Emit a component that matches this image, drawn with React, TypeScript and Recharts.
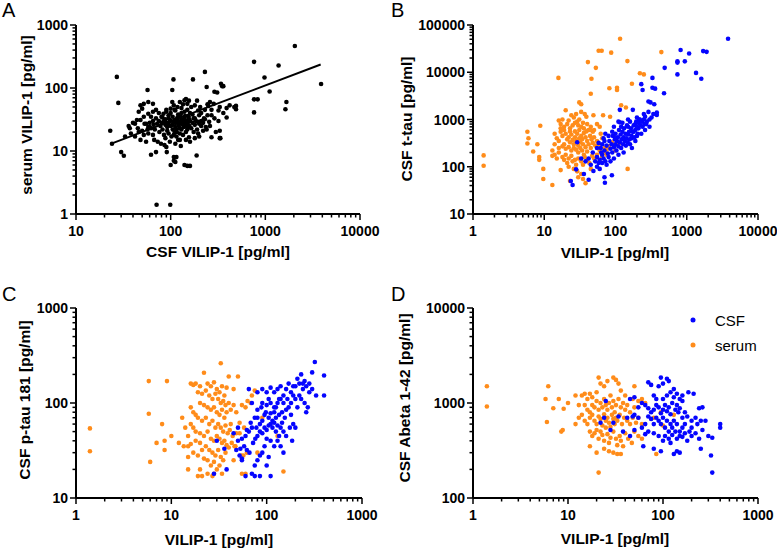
import { ScatterChart, Scatter, XAxis, YAxis } from "recharts";

type Pt = [number, number];

// A: CSF VILIP-1 (x) vs serum VILIP-1 (y)
const csfVsSerum: Pt[] = [
  [23, 21], [24, 13], [27, 150], [28, 58], [30, 9.6], [32, 8.4], [36, 25], [37, 23], [42, 27], [44, 31],
  [46, 42], [48, 53], [52, 56], [58, 60], [65, 56], [50, 47], [58, 39], [52, 35], [48, 31], [46, 20],
  [50, 21], [52, 18], [58, 19], [60, 24], [62, 23], [65, 18], [67, 15], [73, 14], [79, 13], [86, 12.4],
  [90, 11.6], [62, 8.7], [70, 9.6], [57, 93], [71, 1.4], [99, 1.4], [91, 9.6], [100, 6], [108, 7], [115, 8],
  [107, 137], [172, 137], [190, 63], [188, 8.5], [150, 5.8], [160, 5.8], [230, 180], [240, 104], [245, 55], [250, 52],
  [270, 16.5], [310, 85], [330, 21], [335, 16], [340, 117], [350, 107], [360, 107], [390, 48], [390, 34], [490, 52],
  [490, 46], [760, 260], [760, 41], [760, 66], [830, 66], [980, 147], [1110, 88], [1380, 228], [1630, 46], [1670, 60],
  [2050, 465], [3880, 116], [80, 35], [84, 39], [88, 32], [90, 42], [95, 37], [98, 31], [104, 60], [108, 53],
  [100, 47], [112, 44], [100, 25], [108, 29], [112, 24], [116, 32], [120, 27], [125, 23], [130, 31], [135, 26],
  [140, 33], [145, 29], [150, 24], [156, 32], [116, 20], [125, 19], [135, 18], [145, 20], [108, 18], [140, 64],
  [145, 67], [150, 56], [156, 63], [180, 53], [195, 44], [205, 50], [200, 37], [180, 33], [195, 29], [210, 25],
  [225, 33], [245, 37], [235, 24], [220, 21], [255, 29], [195, 19], [180, 16], [156, 16.5], [145, 15], [270, 37],
  [290, 33], [320, 44], [330, 50], [285, 56], [360, 40], [420, 53], [470, 50], [330, 16], [108, 8], [112, 6.7],
  [140, 6], [290, 87], [104, 93], [100, 30], [105, 26], [110, 31], [112, 28], [115, 22], [118, 34], [120, 30],
  [122, 25], [125, 28], [128, 35], [130, 22], [132, 27], [135, 30], [138, 24], [140, 28], [142, 36], [145, 26],
  [148, 30], [150, 22], [152, 28], [155, 35], [158, 25], [160, 30], [90, 28], [92, 24], [95, 33], [85, 30],
  [88, 26], [80, 28], [82, 22], [75, 30], [78, 25], [70, 33], [72, 27], [68, 22], [65, 30], [60, 28],
  [62, 35], [55, 27], [58, 24], [170, 28], [175, 33], [165, 23], [180, 26], [185, 30], [190, 22], [200, 27],
  [210, 30], [220, 28], [230, 32], [110, 20], [115, 17], [125, 15], [95, 19], [85, 18], [105, 22], [120, 38],
  [130, 40], [100, 40], [90, 45], [110, 45], [140, 42], [150, 45], [160, 40], [170, 38], [130, 48], [53, 27],
  [57, 22], [45, 23], [40, 28], [38, 19], [42, 17], [48, 15], [55, 14], [33, 17], [75, 40], [70, 45],
  [65, 42], [118, 50], [125, 60], [135, 55], [105, 35], [95, 27], [82, 34], [76, 20], [88, 16], [98, 14],
  [112, 13], [128, 12], [160, 14], [175, 20], [240, 22], [260, 25], [200, 17], [300, 20], [320, 30], [270, 45],
  [230, 45], [260, 60], [210, 40], [165, 50], [120, 15], [102, 17], [92, 21], [66, 26],
];
const fitA: Pt[] = [[24, 13.2], [3840, 236]];

// B: VILIP-1 vs CSF t-tau
const serumTtau: Pt[] = [
  [1.41, 174], [1.41, 105], [5.8, 550], [6, 400], [5.8, 310], [7, 211], [8, 300], [8.5, 160], [8.5, 140], [8.8, 740],
  [9.7, 90], [9.7, 55], [13, 170], [13, 41], [15.8, 7600], [31, 2300], [33, 2100], [41, 16400], [46, 7300], [45, 3500],
  [53, 12400], [58, 28500], [64, 28500], [87, 26000], [82, 4600], [105, 4700], [105, 4200], [116, 51000], [147, 17200], [120, 2000],
  [140, 1800], [170, 5700], [220, 9500], [250, 9000], [440, 26700], [148, 90],
  [20, 1570], [24, 1230], [33, 1450], [39, 1140], [49, 1230], [67, 1230], [84, 1140], [18, 1000], [22, 950], [26, 1100],
  [29, 900], [31, 1000], [35, 850], [37, 1300], [28, 1300], [16, 950], [17, 800], [21, 800], [25, 750], [27, 850],
  [30, 750], [33, 700], [36, 650], [40, 800], [42, 600], [19, 700], [23, 650], [45, 700], [50, 600], [55, 800],
  [60, 700], [14, 500], [15, 400], [16, 350], [17, 550], [18, 450], [19, 300], [20, 500], [21, 380], [22, 420],
  [23, 330], [24, 480], [25, 370], [26, 300], [27, 420], [28, 350], [29, 500], [30, 280], [31, 400], [32, 330],
  [33, 450], [34, 380], [35, 300], [36, 520], [38, 420], [40, 350], [42, 300], [44, 450], [46, 380], [48, 320],
  [50, 420], [14, 300], [16, 250], [18, 270], [20, 240], [22, 260], [24, 220], [26, 250], [28, 230], [30, 200],
  [32, 250], [34, 220], [36, 180], [38, 260], [40, 210], [45, 250], [52, 280], [55, 350], [58, 300], [60, 220],
  [65, 400], [70, 250], [62, 500], [48, 550], [44, 600], [39, 560], [31, 600], [27, 560], [23, 560], [19, 600],
  [17, 650], [13, 220], [14, 180], [15, 150], [16, 200], [18, 160], [19, 140], [20, 180], [21, 120], [22, 150],
  [24, 170], [25, 130], [27, 140], [28, 110], [30, 150], [33, 130], [35, 110], [37, 160], [40, 140], [43, 120],
  [47, 170], [50, 150], [55, 180], [60, 130], [65, 160], [70, 200], [75, 230], [22, 100], [26, 90], [29, 80],
  [33, 70], [35, 55], [38, 45], [23, 50], [30, 60], [45, 90], [17, 85], [80, 270], [90, 330], [100, 220],
  [75, 180], [110, 300], [95, 450],
];
const csfTtau: Pt[] = [
  [3800, 51000], [820, 29500], [1900, 27000], [1080, 25000], [1700, 28000], [740, 17000], [740, 16000], [940, 17000], [740, 9000], [1350, 9700],
  [1600, 7300], [490, 12400], [480, 3600], [230, 5600], [240, 4200], [330, 7600], [330, 4700], [360, 4500], [290, 2400], [310, 2300],
  [350, 2100], [380, 1250], [380, 1400], [290, 1450], [250, 1300], [175, 1600], [115, 1600], [115, 870], [200, 1100], [220, 1000],
  [260, 1150], [300, 1000], [270, 800], [240, 700], [210, 650], [190, 800], [160, 900], [150, 700], [230, 500], [260, 600],
  [300, 700], [200, 450], [180, 550], [170, 400], [190, 350], [23.6, 50], [25, 41], [28, 88], [29, 330], [33, 150],
  [36, 70], [42, 53], [49, 81], [70, 60], [71, 46], [89, 66], [38, 130], [42, 150], [45, 110], [48, 200],
  [52, 130], [55, 160], [58, 120], [60, 140], [62, 250], [65, 180], [68, 150], [70, 220], [72, 130], [75, 280],
  [78, 190], [80, 160], [82, 350], [85, 240], [88, 300], [90, 200], [92, 450], [95, 260], [98, 380], [100, 300],
  [100, 500], [103, 220], [105, 350], [108, 420], [110, 270], [112, 600], [115, 330], [118, 480], [120, 250], [122, 380],
  [125, 550], [128, 300], [130, 420], [132, 650], [135, 350], [138, 500], [140, 280], [142, 400], [145, 750], [148, 330],
  [150, 480], [155, 550], [158, 380], [160, 300], [165, 650], [168, 450], [170, 250], [175, 550], [180, 750], [185, 420],
  [190, 600], [195, 900], [200, 700], [205, 500], [210, 850], [215, 1000], [225, 750], [235, 900], [250, 1000], [255, 800],
  [275, 900], [320, 1100], [340, 1300], [130, 200], [110, 180], [95, 150], [85, 130], [75, 110], [65, 120], [55, 100],
  [60, 90], [100, 400], [120, 700], [90, 550], [80, 450], [70, 350], [65, 300], [110, 900], [125, 850], [150, 1000],
  [95, 700], [55, 250], [58, 320], [63, 200], [68, 400], [72, 500],
];

// C: VILIP-1 vs CSF p-tau 181
const serumPtau: Pt[] = [
  [1.4, 54], [1.4, 31], [5.8, 170], [5.8, 77], [6, 24], [7, 38], [8, 60], [8.5, 40], [8.5, 32], [9, 170],
  [10, 45], [12, 38], [13, 70], [13.5, 35], [14, 55], [15, 20], [15, 27], [16, 160], [16, 37], [33, 262],
  [22, 208], [40, 190], [18, 160], [17, 155], [20, 150], [24, 160], [26, 150], [28, 165], [30, 140], [32, 130],
  [34, 150], [36, 120], [38, 145], [19, 130], [21, 125], [23, 135], [25, 120], [27, 110], [29, 125], [31, 110],
  [33, 100], [35, 105], [37, 95], [40, 100], [45, 140], [42, 85], [20, 100], [22, 95], [24, 90], [26, 85],
  [28, 90], [30, 80], [32, 75], [34, 85], [36, 70], [38, 80], [16, 90], [17, 80], [18, 75], [19, 70],
  [21, 65], [23, 70], [25, 60], [27, 65], [29, 55], [31, 60], [33, 55], [35, 50], [37, 58], [39, 48],
  [41, 52], [44, 45], [16, 60], [17, 55], [18, 50], [20, 48], [22, 45], [24, 50], [26, 42], [28, 40],
  [30, 45], [32, 42], [34, 38], [36, 40], [38, 36], [40, 34], [43, 38], [46, 35], [15, 45], [18, 40],
  [20, 38], [23, 35], [25, 32], [27, 30], [29, 28], [31, 32], [33, 27], [35, 25], [37, 30], [15, 35],
  [17, 30], [19, 28], [21, 32], [22, 26], [24, 25], [26, 22], [28, 24], [30, 20], [32, 22], [34, 18],
  [20, 20], [19, 17], [21, 17], [27, 17], [28, 18], [24, 18], [50, 190], [55, 95], [60, 90], [63, 105],
  [70, 120], [90, 70], [60, 18], [55, 18], [150, 19], [45, 95], [48, 48], [47, 35], [52, 48], [54, 28],
  [58, 55], [62, 30], [57, 28], [68, 100], [75, 135], [130, 45], [80, 30], [42, 60], [48, 80], [52, 62],
  [45, 25],
];
const csfPtau: Pt[] = [
  [320, 270], [400, 195], [400, 120], [330, 120], [280, 160], [250, 170], [230, 200], [210, 180], [300, 210], [260, 150],
  [240, 140], [220, 120], [270, 90], [260, 80], [200, 110], [190, 150], [180, 130], [170, 160], [160, 140], [150, 120],
  [140, 150], [130, 140], [120, 130], [110, 145], [100, 130], [90, 140], [80, 130], [65, 140], [150, 100], [140, 110],
  [130, 100], [120, 90], [110, 100], [100, 95], [90, 100], [80, 85], [75, 70], [70, 100], [160, 85], [170, 90],
  [180, 75], [190, 60], [200, 55], [185, 40], [155, 70], [145, 80], [135, 75], [125, 70], [115, 65], [105, 70],
  [95, 75], [85, 60], [78, 55], [70, 55], [65, 50], [60, 45], [55, 42], [50, 40], [48, 32], [52, 28],
  [55, 25], [58, 35], [62, 32], [66, 30], [72, 38], [76, 42], [80, 45], [85, 50], [90, 48], [95, 55],
  [100, 52], [105, 58], [110, 60], [115, 55], [120, 62], [125, 50], [130, 58], [135, 45], [140, 55], [145, 62],
  [150, 50], [110, 40], [100, 42], [95, 35], [90, 30], [85, 28], [80, 25], [75, 22], [70, 18], [60, 17],
  [75, 17], [85, 17], [110, 17], [100, 22], [105, 27], [120, 35], [130, 40], [140, 35], [160, 45], [175, 55],
  [150, 30], [110, 78], [120, 80], [90, 65], [80, 70], [28, 18], [30, 40], [38, 20], [36, 33], [45, 48],
  [50, 55], [55, 26], [53, 33], [62, 52], [68, 62], [88, 90], [98, 80], [125, 90], [135, 110], [210, 90],
  [230, 110], [180, 100], [165, 110], [250, 100], [280, 130], [300, 140], [200, 150], [220, 160], [240, 160], [190, 120],
  [105, 110],
];

// D: VILIP-1 vs CSF Abeta 1-42
const serumAbeta: Pt[] = [
  [1.4, 1500], [1.4, 920], [5.8, 1100], [6.2, 1500], [6, 630], [7, 880], [8, 1100], [8.5, 500], [8.8, 520], [9, 870],
  [10, 1000], [12, 1200], [13, 700], [21, 185], [85, 290], [14, 1200], [15, 1250], [16, 1100], [17, 1250], [18, 1150],
  [20, 1300], [21, 1850], [22, 1600], [24, 1500], [26, 1700], [30, 1850], [32, 1750], [34, 1600], [36, 1350], [40, 1200],
  [50, 1500], [55, 1050], [60, 1100], [65, 1000], [15, 950], [16, 850], [17, 800], [18, 950], [19, 900], [20, 1050],
  [21, 850], [22, 1000], [23, 900], [24, 1100], [25, 950], [26, 850], [27, 1000], [28, 1200], [29, 900], [30, 1050],
  [31, 800], [32, 950], [34, 1100], [36, 900], [38, 1000], [40, 850], [42, 950], [45, 800], [48, 1100], [50, 900],
  [15, 650], [16, 600], [17, 700], [18, 750], [19, 650], [20, 600], [21, 720], [22, 680], [23, 580], [24, 760],
  [25, 650], [26, 700], [27, 620], [28, 560], [29, 750], [30, 680], [31, 600], [32, 700], [33, 650], [35, 750],
  [37, 600], [39, 700], [42, 650], [45, 600], [48, 700], [52, 620], [55, 700], [60, 600], [17, 500], [18, 450],
  [19, 480], [20, 520], [21, 420], [22, 500], [23, 460], [24, 400], [25, 550], [26, 470], [27, 380], [28, 430],
  [30, 500], [32, 420], [33, 360], [35, 450], [36, 400], [38, 350], [40, 480], [43, 420], [47, 380], [50, 500],
  [55, 450], [60, 420], [17, 350], [20, 300], [24, 330], [27, 310], [30, 300], [33, 290], [36, 290], [13, 950],
  [14, 750], [12, 600], [80, 700], [95, 800], [130, 750], [100, 580],
];
const csfAbeta: Pt[] = [
  [95, 1850], [110, 1800], [115, 1700], [100, 1600], [75, 1550], [70, 1650], [90, 1500], [130, 1400], [120, 1300], [140, 1250],
  [160, 1200], [185, 1300], [210, 1250], [160, 1050], [150, 1100], [130, 1150], [110, 1200], [100, 1100], [85, 1100], [80, 1200],
  [60, 1000], [50, 1150], [45, 1100], [55, 900], [65, 950], [70, 880], [75, 800], [80, 850], [85, 950], [90, 900],
  [95, 780], [100, 850], [105, 950], [110, 820], [115, 900], [120, 760], [125, 1000], [135, 850], [140, 950], [145, 800],
  [150, 880], [160, 700], [170, 800], [180, 720], [200, 650], [220, 700], [250, 650], [260, 900], [240, 880], [230, 600],
  [200, 550], [190, 500], [170, 600], [160, 550], [150, 500], [140, 600], [135, 500], [130, 650], [125, 550], [120, 600],
  [115, 500], [110, 650], [105, 550], [100, 700], [95, 600], [90, 650], [85, 700], [80, 600], [75, 680], [70, 720],
  [65, 600], [60, 550], [55, 700], [50, 750], [48, 720], [42, 700], [38, 500], [34, 720], [30, 620], [28, 520],
  [24, 700], [22, 620], [25, 1050], [50, 520], [45, 450], [62, 350], [80, 330], [95, 310], [130, 290], [140, 310],
  [150, 300], [105, 450], [115, 420], [125, 460], [140, 420], [150, 450], [160, 440], [170, 480], [200, 450], [220, 480],
  [240, 420], [260, 520], [280, 650], [300, 450], [320, 280], [330, 185], [400, 550], [400, 600], [330, 430], [250, 330],
  [180, 400], [120, 380], [100, 400], [90, 450], [80, 480], [70, 500], [65, 470],
];

const ticksA_x = [10, 100, 1000, 10000];
const ticksA_y = [1, 10, 100, 1000];
const ticksB_x = [1, 10, 100, 1000, 10000];
const ticksB_y = [10, 100, 1000, 10000, 100000];
const ticksCD_x = [1, 10, 100, 1000];
const ticksC_y = [10, 100, 1000];
const ticksD_y = [100, 1000, 10000];

const BLUE = "#0505ff";
const ORANGE = "#ff8c1a";
const FONT = "'Liberation Sans', Arial, sans-serif";

const toObj = (arr: Pt[]) => arr.map(([x, y]) => ({ x, y }));

function withMinor(majors: number[]) {
  const out = [...majors];
  for (let i = 0; i < majors.length - 1; i++) {
    for (let k = 2; k < 10; k++) out.push(majors[i] * k);
  }
  return out;
}

const xTick = (majors: number[]) => (p: any) => {
  const major = majors.includes(p.payload.value);
  return (
    <g>
      <line x1={p.x} x2={p.x} y1={p.y} y2={p.y + (major ? 6 : 3.5)} stroke="#000" strokeWidth={1.5} />
      {major && (
        <text x={p.x} y={p.y + 17} textAnchor="middle" dominantBaseline="central"
          fontSize={14} fontWeight="bold" fontFamily={FONT} fill="#000">
          {p.payload.value}
        </text>
      )}
    </g>
  );
};

const yTick = (majors: number[]) => (p: any) => {
  const major = majors.includes(p.payload.value);
  return (
    <g>
      <line x1={p.x} x2={p.x - (major ? 6 : 3.5)} y1={p.y} y2={p.y} stroke="#000" strokeWidth={1.5} />
      {major && (
        <text x={p.x - 8} y={p.y} textAnchor="end" dominantBaseline="central"
          fontSize={14} fontWeight="bold" fontFamily={FONT} fill="#000">
          {p.payload.value}
        </text>
      )}
    </g>
  );
};

const dot = (color: string) => (p: any) => <circle cx={p.cx} cy={p.cy} r={2.3} fill={color} />;

type Series = { data: Pt[]; color: string };

function Panel(props: {
  left: number; top: number; width: number; height: number;
  plotTop: number; plotLeft: number; plotRight: number; xAxisH: number;
  xTicks: number[]; yTicks: number[]; series: Series[]; fit?: Pt[];
}) {
  const { xTicks, yTicks } = props;
  const axisLine = { stroke: "#000", strokeWidth: 2 };
  return (
    <div style={{ position: "absolute", left: props.left, top: props.top }}>
      <ScatterChart
        width={props.width}
        height={props.height}
        margin={{ top: props.plotTop, right: props.width - props.plotRight, left: 0, bottom: 0 }}
      >
        <XAxis
          type="number" dataKey="x" scale="log" allowDataOverflow
          domain={[xTicks[0], xTicks[xTicks.length - 1]]}
          ticks={withMinor(xTicks)} interval={0} tickSize={0} tickMargin={0}
          height={props.xAxisH} tickLine={false} axisLine={axisLine} tick={xTick(xTicks)}
        />
        <YAxis
          type="number" dataKey="y" scale="log" allowDataOverflow
          domain={[yTicks[0], yTicks[yTicks.length - 1]]}
          ticks={withMinor(yTicks)} interval={0} tickSize={0} tickMargin={0}
          width={props.plotLeft} tickLine={false} axisLine={axisLine} tick={yTick(yTicks)}
        />
        {props.series.map((s, i) => (
          <Scatter key={i} data={toObj(s.data)} fill={s.color} shape={dot(s.color)} isAnimationActive={false} />
        ))}
        {props.fit && (
          <Scatter data={toObj(props.fit)} line={{ stroke: "#000", strokeWidth: 2 }}
            shape={() => <g />} isAnimationActive={false} />
        )}
      </ScatterChart>
    </div>
  );
}

const titleStyle = { fontSize: 15.5, fontWeight: "bold" as const, fontFamily: FONT, fill: "#000" };

function YTitle({ x, y, text }: { x: number; y: number; text: string }) {
  return (
    <text x={x} y={y} transform={`rotate(-90, ${x}, ${y})`} textAnchor="middle"
      dominantBaseline="central" {...titleStyle}>{text}</text>
  );
}

function XTitle({ x, y, text }: { x: number; y: number; text: string }) {
  return <text x={x} y={y} textAnchor="middle" dominantBaseline="central" {...titleStyle}>{text}</text>;
}

export default function App() {
  const letter = { fontSize: 20, fontFamily: FONT, fill: "#000" };
  return (
    <div style={{ position: "absolute", left: 0, top: 0, width: 777, height: 550, background: "#fff" }}>
      <Panel left={0} top={0} width={390} height={270} plotTop={25} plotLeft={76} plotRight={360} xAxisH={56}
        xTicks={ticksA_x} yTicks={ticksA_y} series={[{ data: csfVsSerum, color: "#000" }]} fit={fitA} />
      <Panel left={390} top={0} width={387} height={270} plotTop={25} plotLeft={83} plotRight={368} xAxisH={56}
        xTicks={ticksB_x} yTicks={ticksB_y}
        series={[{ data: serumTtau, color: ORANGE }, { data: csfTtau, color: BLUE }]} />
      <Panel left={0} top={270} width={390} height={280} plotTop={38} plotLeft={76} plotRight={362} xAxisH={52}
        xTicks={ticksCD_x} yTicks={ticksC_y}
        series={[{ data: serumPtau, color: ORANGE }, { data: csfPtau, color: BLUE }]} />
      <Panel left={390} top={270} width={387} height={280} plotTop={38} plotLeft={83} plotRight={368} xAxisH={52}
        xTicks={ticksCD_x} yTicks={ticksD_y}
        series={[{ data: serumAbeta, color: ORANGE }, { data: csfAbeta, color: BLUE }]} />
      <svg width={777} height={550} style={{ position: "absolute", left: 0, top: 0, pointerEvents: "none" }}>
        <text x={2} y={17} {...letter}>A</text>
        <text x={391} y={17} {...letter}>B</text>
        <text x={2} y={301} {...letter}>C</text>
        <text x={391} y={301} {...letter}>D</text>
        <YTitle x={26} y={115} text="serum VILIP-1 [pg/ml]" />
        <YTitle x={406} y={119} text="CSF t-tau [pg/ml]" />
        <YTitle x={24} y={400} text="CSF p-tau 181 [pg/ml]" />
        <YTitle x={404} y={398} text="CSF Abeta 1-42 [pg/ml]" />
        <XTitle x={218} y={251} text="CSF VILIP-1 [pg/ml]" />
        <XTitle x={615} y={252} text="VILIP-1 [pg/ml]" />
        <XTitle x={219} y={539} text="VILIP-1 [pg/ml]" />
        <XTitle x={615} y={538} text="VILIP-1 [pg/ml]" />
        <circle cx={693} cy={320} r={2.5} fill={BLUE} />
        <text x={715} y={320} dominantBaseline="central" fontSize={15} fontFamily={FONT}>CSF</text>
        <circle cx={693} cy={345} r={2.5} fill={ORANGE} />
        <text x={715} y={345} dominantBaseline="central" fontSize={15} fontFamily={FONT}>serum</text>
      </svg>
    </div>
  );
}
